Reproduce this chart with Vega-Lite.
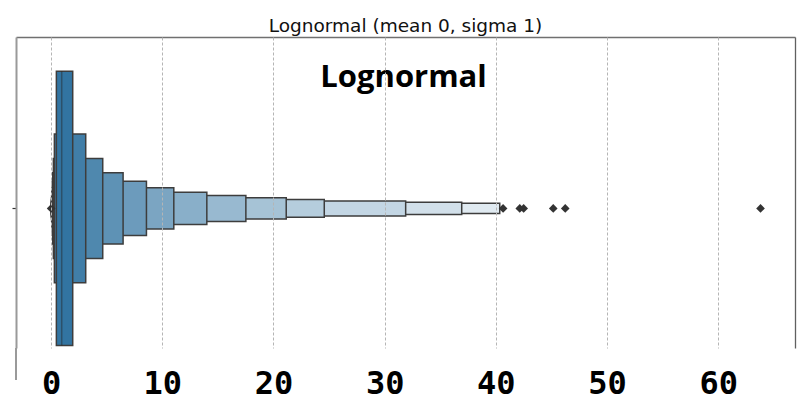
{
  "$schema": "https://vega.github.io/schema/vega-lite/v6.json",
  "width": 779,
  "height": 311,
  "autosize": "none",
  "padding": {"left": 16, "top": 37, "right": 13, "bottom": 56},
  "background": "white",
  "config": {"view": {"stroke": null}},
  "title": {
    "text": "Lognormal (mean 0, sigma 1)",
    "font": "DejaVu Sans",
    "fontSize": 18.5,
    "fontWeight": "normal",
    "color": "#111111",
    "anchor": "middle",
    "frame": "group",
    "offset": 2
  },
  "datasets": {
    "boxes": [
      {"level": 13, "lo": 0.02, "hi": 40.35, "ylo": -0.015, "yhi": 0.015},
      {"level": 12, "lo": 0.025, "hi": 36.93, "ylo": -0.018, "yhi": 0.018},
      {"level": 11, "lo": 0.03, "hi": 31.89, "ylo": -0.022, "yhi": 0.022},
      {"level": 10, "lo": 0.037, "hi": 24.57, "ylo": -0.026, "yhi": 0.026},
      {"level": 9, "lo": 0.045, "hi": 21.15, "ylo": -0.031, "yhi": 0.031},
      {"level": 8, "lo": 0.055, "hi": 17.52, "ylo": -0.038, "yhi": 0.038},
      {"level": 7, "lo": 0.07, "hi": 14.01, "ylo": -0.047, "yhi": 0.047},
      {"level": 6, "lo": 0.09, "hi": 11.04, "ylo": -0.06, "yhi": 0.06},
      {"level": 5, "lo": 0.115, "hi": 8.58, "ylo": -0.079, "yhi": 0.079},
      {"level": 4, "lo": 0.155, "hi": 6.48, "ylo": -0.104, "yhi": 0.104},
      {"level": 3, "lo": 0.21, "hi": 4.65, "ylo": -0.146, "yhi": 0.146},
      {"level": 2, "lo": 0.3, "hi": 3.12, "ylo": -0.217, "yhi": 0.217},
      {"level": 1, "lo": 0.48, "hi": 1.95, "ylo": -0.4, "yhi": 0.4}
    ],
    "median": [{"value": 0.96, "ylo": -0.4, "yhi": 0.4}],
    "outliers": [
      {"value": 0.01, "y": 0},
      {"value": 40.65, "y": 0},
      {"value": 42.15, "y": 0},
      {"value": 42.5, "y": 0},
      {"value": 45.16, "y": 0},
      {"value": 46.24, "y": 0},
      {"value": 63.8, "y": 0}
    ],
    "label": [{"text": "Lognormal", "x": 31.7, "y": 0.354}],
    "spine": [{"x": -3.15, "y": -0.5, "y2": -0.407}]
  },
  "resolve": {"axis": {"x": "independent", "y": "independent"}},
  "layer": [
    {
      "data": {"name": "boxes"},
      "mark": {"type": "rect", "stroke": "#3d3d3d", "strokeWidth": 1.5},
      "encoding": {
        "x": {
          "field": "lo", "type": "quantitative",
          "scale": {"domain": [-3.15, 66.9], "nice": false, "zero": false},
          "axis": {
            "orient": "bottom",
            "values": [0, 10, 20, 30, 40, 50, 60],
            "domain": false,
            "ticks": false,
            "tickSize": 0,
            "grid": true,
            "gridColor": "#b5b5b5",
            "gridWidth": 1,
            "gridDash": [3, 2],
            "labelFont": "DejaVu Sans Mono",
            "labelFontSize": 32,
            "labelFontWeight": "bold",
            "labelColor": "#000000",
            "labelPadding": 20,
            "labelFlush": false,
            "labelOverlap": false,
            "title": null,
            "zindex": 1
          }
        },
        "x2": {"field": "hi"},
        "y": {
          "field": "ylo", "type": "quantitative",
          "scale": {"domain": [-0.407, 0.5], "nice": false, "zero": false},
          "axis": {
            "orient": "left",
            "values": [0],
            "labels": false,
            "grid": false,
            "domain": true,
            "domainColor": "#9a9a9a",
            "domainWidth": 2,
            "ticks": true,
            "tickSize": 4,
            "tickColor": "#333333",
            "tickWidth": 1.2,
            "title": null,
            "minExtent": 0,
            "zindex": 1
          }
        },
        "y2": {"field": "yhi"},
        "color": {
          "field": "level", "type": "quantitative",
          "scale": {"domain": [1, 13], "range": ["#3274a1", "#e0eaf1"], "interpolate": "rgb"},
          "legend": null
        }
      }
    },
    {
      "data": {"name": "median"},
      "mark": {"type": "rule", "color": "#262626", "opacity": 0.45, "strokeWidth": 1.5},
      "encoding": {
        "x": {
          "field": "value", "type": "quantitative",
          "scale": {"domain": [-3.15, 66.9], "nice": false, "zero": false},
          "axis": {
            "orient": "top", "labels": false, "ticks": false, "grid": false,
            "domain": true, "domainColor": "#707070", "domainWidth": 1.3,
            "title": null, "minExtent": 0, "maxExtent": 0
          }
        },
        "y": {
          "field": "ylo", "type": "quantitative",
          "scale": {"domain": [-0.407, 0.5], "nice": false, "zero": false},
          "axis": {
            "orient": "right", "labels": false, "ticks": false, "grid": false,
            "domain": true, "domainColor": "#606060", "domainWidth": 1.3,
            "title": null, "minExtent": 0, "maxExtent": 0
          }
        },
        "y2": {"field": "yhi"}
      }
    },
    {
      "data": {"name": "outliers"},
      "mark": {"type": "point", "shape": "diamond", "filled": true, "color": "#333333", "size": 75, "opacity": 1},
      "encoding": {
        "x": {"field": "value", "type": "quantitative", "scale": {"domain": [-3.15, 66.9], "nice": false, "zero": false}, "axis": null},
        "y": {"field": "y", "type": "quantitative", "scale": {"domain": [-0.407, 0.5], "nice": false, "zero": false}, "axis": null}
      }
    },
    {
      "data": {"name": "label"},
      "mark": {"type": "text", "font": "Open Sans", "fontSize": 31, "fontWeight": "bold", "color": "#000000", "align": "center", "baseline": "alphabetic"},
      "encoding": {
        "x": {"field": "x", "type": "quantitative", "scale": {"domain": [-3.15, 66.9], "nice": false, "zero": false}, "axis": null},
        "y": {"field": "y", "type": "quantitative", "scale": {"domain": [-0.407, 0.5], "nice": false, "zero": false}, "axis": null},
        "text": {"field": "text"}
      }
    },
    {
      "data": {"name": "spine"},
      "mark": {"type": "rule", "color": "#9a9a9a", "strokeWidth": 2, "clip": false},
      "encoding": {
        "x": {"field": "x", "type": "quantitative", "scale": {"domain": [-3.15, 66.9], "nice": false, "zero": false}, "axis": null},
        "y": {"field": "y", "type": "quantitative", "scale": {"domain": [-0.407, 0.5], "nice": false, "zero": false}, "axis": null},
        "y2": {"field": "y2"}
      }
    }
  ]
}
